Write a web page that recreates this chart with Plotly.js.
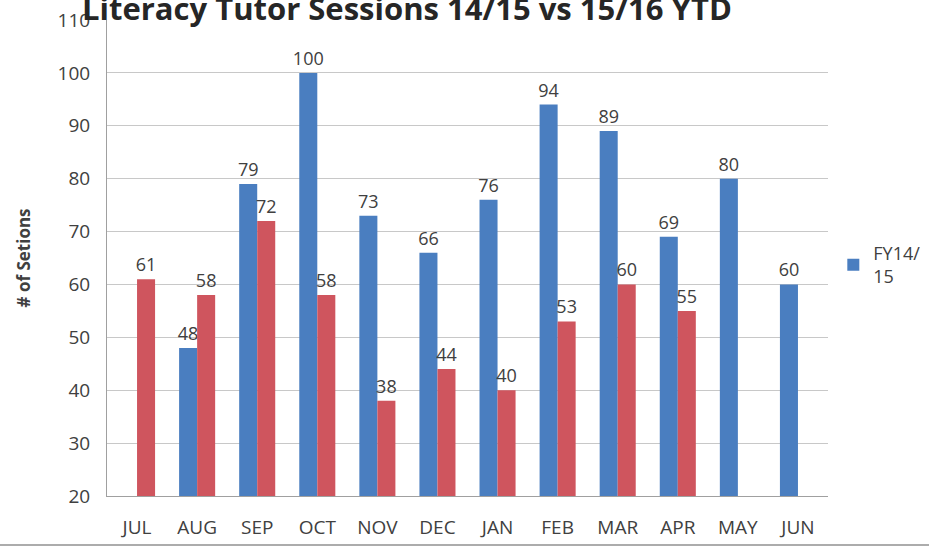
<!DOCTYPE html>
<html>
<head>
<meta charset="utf-8">
<script src="https://cdn.plot.ly/plotly-3.0.1.min.js"></script>
<style>html,body{margin:0;padding:0;background:#fff;}#chart{width:929px;height:546px;}</style>
</head>
<body>
<div id="chart"></div>
<script>
const months = ["JUL","AUG","SEP","OCT","NOV","DEC","JAN","FEB","MAR","APR","MAY","JUN"];
const fy1415 = [null,48,79,100,73,66,76,94,89,69,80,60];
const fy1516 = [61,58,72,58,38,44,40,53,60,55,null,null];
const yTicks = [20,30,40,50,60,70,80,90,100,110];
const titleText = "Literacy Tutor Sessions 14/15 vs 15/16 YTD";

const font = "Open Sans, Noto Sans, sans-serif";
const txt = v => v.map(x => x === null ? "" : String(x));

const traces = [
  {type:"bar", x:months, y:fy1415, name:"FY14/<br>15", marker:{color:"#4A7EC0"},
   text:txt(fy1415), textposition:"outside", cliponaxis:false, constraintext:"none",
   textfont:{size:18, color:"#404040", family:font}},
  {type:"bar", x:months, y:fy1516, name:"FY15/16", showlegend:false, marker:{color:"#CF555E"},
   text:txt(fy1516), textposition:"outside", cliponaxis:false, constraintext:"none",
   textfont:{size:18, color:"#404040", family:font}}
];

const layout = {
  width:929, height:546,
  margin:{l:107, r:101, t:20, b:50},
  paper_bgcolor:"#fff", plot_bgcolor:"#fff",
  barmode:"group", bargap:0.4, bargroupgap:0,
  font:{family:font, color:"#404040"},
  showlegend:true,
  legend:{xref:"container", yref:"container", x:0.897, y:0.515, yanchor:"middle", xanchor:"left",
          font:{size:18, color:"#404040"}, bgcolor:"rgba(0,0,0,0)", itemwidth:30},
  xaxis:{tickfont:{size:19, color:"#404040"}, showline:true, linecolor:"#a0a0a0", ticks:"", showgrid:false,
         ticklabelstandoff:14, fixedrange:true},
  yaxis:{range:[20,110], tickvals:yTicks, ticktext:yTicks.map(String), tickfont:{size:19, color:"#404040"},
         showgrid:true, gridcolor:"#c8c8c8", showline:true, linecolor:"#a0a0a0", zeroline:false, ticks:"", ticklen:0,
         ticklabelstandoff:12,
         title:{text:"<b># of Setions</b>", font:{size:17, color:"#404040"}, standoff:22}},
  annotations:[{text:"<b>"+titleText+"</b>", xref:"paper", yref:"paper", x:0.416, y:1, xanchor:"center", yanchor:"bottom",
    yshift:-11, showarrow:false, font:{size:31, color:"#262626", family:font}}],
  shapes:[{type:"line", xref:"paper", yref:"paper", x0:-0.2, x1:1.2, y0:-0.103, y1:-0.103, line:{color:"#909090", width:1.5}}]
};

Plotly.newPlot("chart", traces, layout, {displayModeBar:false, staticPlot:true});
</script>
</body>
</html>
